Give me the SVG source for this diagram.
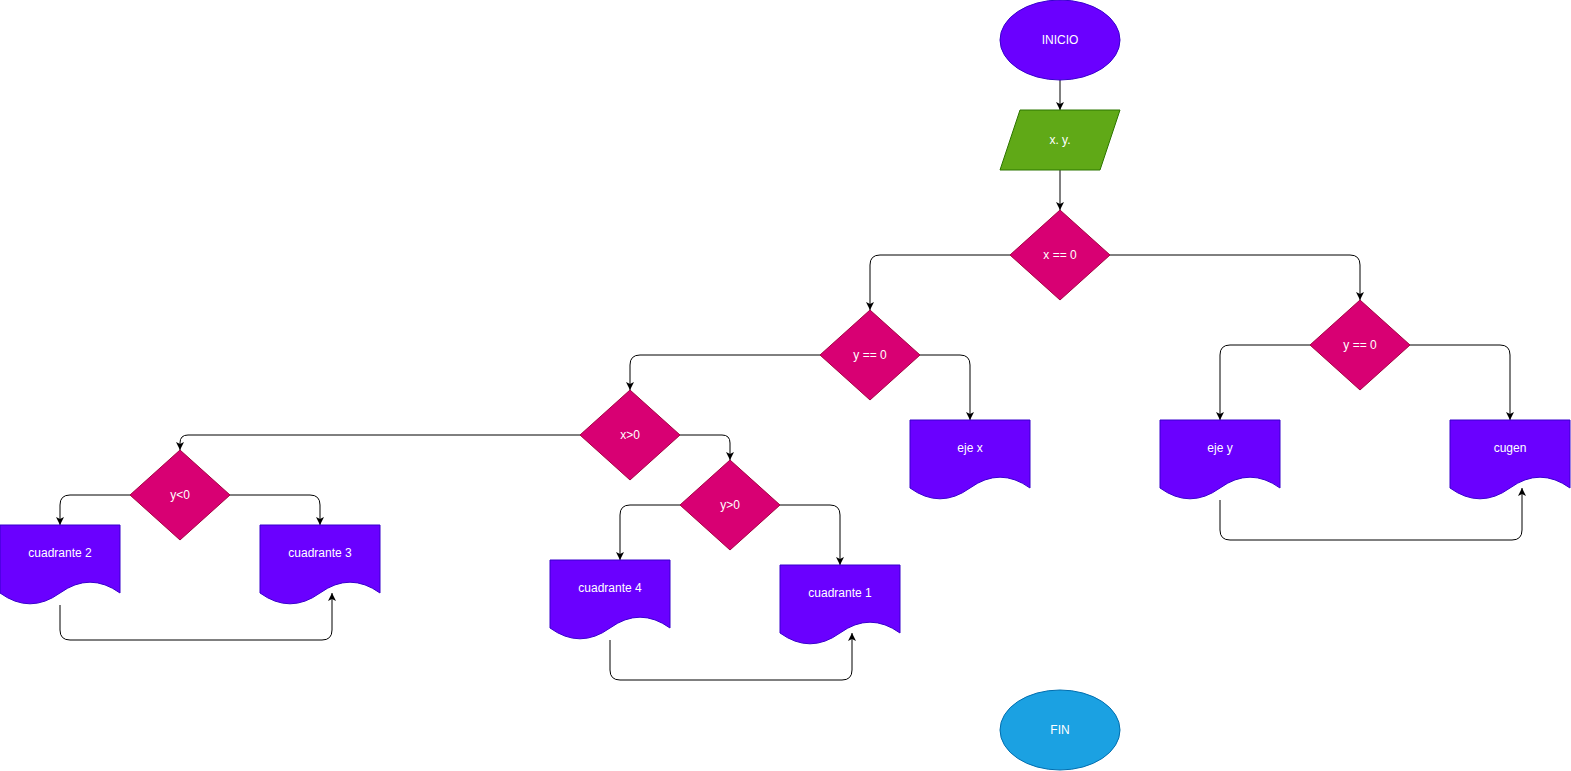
<svg xmlns="http://www.w3.org/2000/svg" xmlns:xlink="http://www.w3.org/1999/xlink" width="1571" height="771" viewBox="0 0 1571 771">
<style>
.lbl{font-family:"Liberation Sans",Helvetica,Arial,sans-serif;font-size:12px;fill:#ffffff;text-anchor:middle;dominant-baseline:central}
.term{fill:#6a00ff;stroke:#3700CC;stroke-width:1}
.fin{fill:#1ba1e2;stroke:#006EAF;stroke-width:1}
.io{fill:#60a917;stroke:#2D7600;stroke-width:1}
.dec{fill:#d80073;stroke:#A50040;stroke-width:1}
.doc{fill:#6a00ff;stroke:#3700CC;stroke-width:1}
.edge{fill:none;stroke:#000000;stroke-width:1;marker-end:url(#arr)}
.plain{fill:none;stroke:#000000;stroke-width:1}
</style>
<defs>
<marker id="arr" viewBox="0 0 8 8" refX="8" refY="4" markerWidth="8" markerHeight="8" markerUnits="userSpaceOnUse" orient="auto">
<path d="M0,0 L8,4 L0,8 L2,4 Z" fill="#000000"/>
</marker>
<path id="docshape" d="M0,0 H120 V68 Q90,46.4 60,68 Q30,89.6 0,68 Z"/>
</defs>
<rect width="1571" height="771" fill="#ffffff"/>

<g id="connectors">
<path class="edge" d="M1060,80 V110"/>
<path class="edge" d="M1060,170 V210"/>
<path class="edge" d="M1010,255 H880 Q870,255 870,265 V310"/>
<path class="edge" d="M1110,255 H1350 Q1360,255 1360,265 V300"/>
<path class="edge" d="M1310,345 H1230 Q1220,345 1220,355 V420"/>
<path class="edge" d="M1410,345 H1500 Q1510,345 1510,355 V420"/>
<path class="edge" d="M1220,500 V530 Q1220,540 1230,540 H1512 Q1522,540 1522,530 V488"/>
<path class="edge" d="M820,355 H640 Q630,355 630,365 V390"/>
<path class="edge" d="M920,355 H960 Q970,355 970,365 V420"/>
<path class="edge" d="M580,435 H188 Q180,435 180,443 V450"/>
<path class="edge" d="M680,435 H722 Q730,435 730,443 V460"/>
<path class="edge" d="M130,495 H70 Q60,495 60,505 V525"/>
<path class="edge" d="M230,495 H310 Q320,495 320,505 V525"/>
<path class="edge" d="M60,605 V630 Q60,640 70,640 H322 Q332,640 332,630 V593"/>
<path class="edge" d="M680,505 H630 Q620,505 620,515 V560"/>
<path class="edge" d="M780,505 H830 Q840,505 840,515 V565"/>
<path class="edge" d="M610,640 V670 Q610,680 620,680 H842 Q852,680 852,670 V633"/>
</g>

<g id="inicio">
<ellipse class="term" cx="1060" cy="40" rx="60" ry="40"/>
<text class="lbl" x="1060" y="40">INICIO</text>
</g>
<g id="entrada">
<polygon class="io" points="1020,110 1120,110 1100,170 1000,170"/>
<text class="lbl" x="1060" y="140">x. y.</text>
</g>
<g id="dec-x0">
<polygon class="dec" points="1060,210 1110,255 1060,300 1010,255"/>
<text class="lbl" x="1060" y="255">x == 0</text>
</g>
<g id="dec-y0-left">
<polygon class="dec" points="870,310 920,355 870,400 820,355"/>
<text class="lbl" x="870" y="355">y == 0</text>
</g>
<g id="dec-y0-right">
<polygon class="dec" points="1360,300 1410,345 1360,390 1310,345"/>
<text class="lbl" x="1360" y="345">y == 0</text>
</g>
<g id="dec-xpos">
<polygon class="dec" points="630,390 680,435 630,480 580,435"/>
<text class="lbl" x="630" y="435">x&gt;0</text>
</g>
<g id="dec-yneg">
<polygon class="dec" points="180,450 230,495 180,540 130,495"/>
<text class="lbl" x="180" y="495">y&lt;0</text>
</g>
<g id="dec-ypos">
<polygon class="dec" points="730,460 780,505 730,550 680,505"/>
<text class="lbl" x="730" y="505">y&gt;0</text>
</g>
<g id="doc-ejex">
<use xlink:href="#docshape" class="doc" x="910" y="420"/>
<text class="lbl" x="970" y="448">eje x</text>
</g>
<g id="doc-ejey">
<use xlink:href="#docshape" class="doc" x="1160" y="420"/>
<text class="lbl" x="1220" y="448">eje y</text>
</g>
<g id="doc-cugen">
<use xlink:href="#docshape" class="doc" x="1450" y="420"/>
<text class="lbl" x="1510" y="448">cugen</text>
</g>
<g id="doc-c2">
<use xlink:href="#docshape" class="doc" x="0" y="525"/>
<text class="lbl" x="60" y="553">cuadrante 2</text>
</g>
<g id="doc-c3">
<use xlink:href="#docshape" class="doc" x="260" y="525"/>
<text class="lbl" x="320" y="553">cuadrante 3</text>
</g>
<g id="doc-c4">
<use xlink:href="#docshape" class="doc" x="550" y="560"/>
<text class="lbl" x="610" y="588">cuadrante 4</text>
</g>
<g id="doc-c1">
<use xlink:href="#docshape" class="doc" x="780" y="565"/>
<text class="lbl" x="840" y="593">cuadrante 1</text>
</g>
<g id="fin">
<ellipse class="fin" cx="1060" cy="730" rx="60" ry="40"/>
<text class="lbl" x="1060" y="730">FIN</text>
</g>
</svg>
